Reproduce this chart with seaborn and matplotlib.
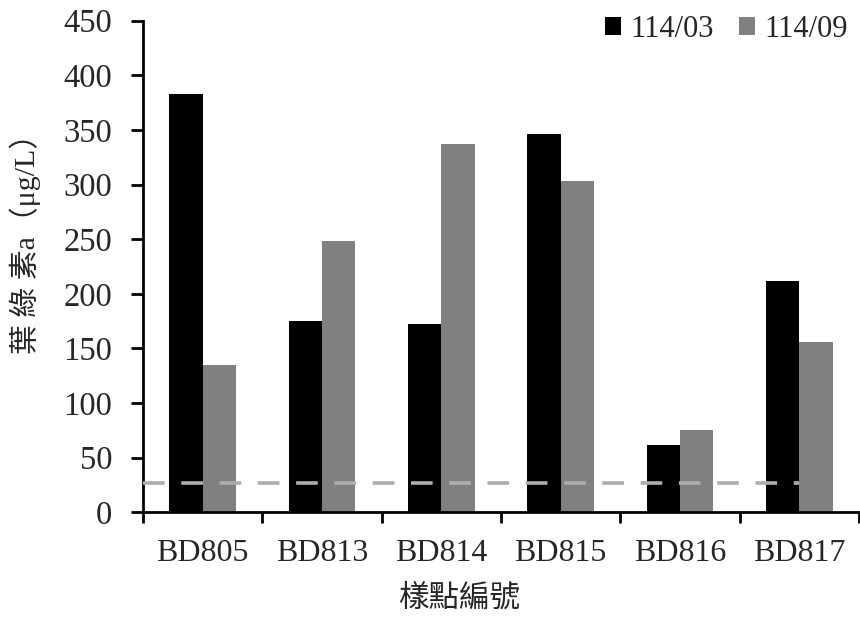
import matplotlib
matplotlib.use("Agg")
import matplotlib.pyplot as plt
import seaborn as sns
import pandas as pd

sites = ["BD805", "BD813", "BD814", "BD815", "BD816", "BD817"]
series_names = ["114/03", "114/09"]
vals_0303 = [383, 175, 172, 346, 62, 212]
vals_0309 = [135, 248, 337, 303, 75, 156]
ref_value = 27
yticks = [0, 50, 100, 150, 200, 250, 300, 350, 400, 450]

df = pd.DataFrame({
    "site": sites * 2,
    "date": [series_names[0]] * len(sites) + [series_names[1]] * len(sites),
    "value": vals_0303 + vals_0309,
})

sns.set_theme(style="white")
plt.rcParams["font.family"] = ["Liberation Serif", "Noto Sans CJK TC", "DejaVu Sans"]

fig = plt.figure(figsize=(8.6, 6.19), dpi=100)
ax = fig.add_axes([143 / 860, 1 - 512.3 / 619, (859 - 143) / 860, (512.3 - 20.7) / 619])

sns.barplot(data=df, x="site", y="value", hue="date", order=sites,
            hue_order=series_names, palette=["#000000", "#808080"],
            width=0.56, gap=0, ax=ax, saturation=1, linewidth=0)

ax.hlines(ref_value, -0.5, 5.0, colors="#ADADAD", linewidth=2.6,
          linestyles=(0, (6.0, 4.6)), zorder=5)

ax.set_xlim(-0.5, len(sites) - 0.5)
ax.set_ylim(0, 450)
ax.set_yticks(yticks)
ax.set_yticklabels([str(t) for t in yticks], fontsize=23.5)
ax.set_xticks(range(len(sites)))
ax.set_xticklabels(sites, fontsize=23)
ax.set_xticks([i - 0.5 for i in range(len(sites) + 1)], minor=True)
ax.tick_params(axis="x", which="major", length=0, pad=19)
ax.tick_params(axis="x", which="minor", length=8, width=2, direction="out", color="black", bottom=True)
ax.tick_params(axis="y", which="major", length=9, width=2, direction="out", color="black", left=True, pad=13)

for side in ["top", "right"]:
    ax.spines[side].set_visible(False)
for side in ["left", "bottom"]:
    ax.spines[side].set_linewidth(2)
    ax.spines[side].set_color("black")

ax.set_ylabel("葉 綠 素a（μg/L）", fontsize=21.5)
ax.yaxis.set_label_coords((25 - 143) / 716, (512.3 - 236) / 491.6)
ax.set_xlabel("樣點編號", fontsize=22)
ax.xaxis.set_label_coords((459 - 143) / 716, (512.3 - 599) / 491.6)
ax.xaxis.label.set_verticalalignment("center")
ax.yaxis.label.set_verticalalignment("center")

leg = ax.legend(loc="upper right", bbox_to_anchor=(848 / 860, 1 - 15 / 619),
                bbox_transform=fig.transFigure, ncol=2, frameon=False,
                fontsize=22, handlelength=0.52, handleheight=0.52,
                handletextpad=0.3, columnspacing=0.85, borderpad=0,
                borderaxespad=0)

fig.savefig("out.png", dpi=100)
